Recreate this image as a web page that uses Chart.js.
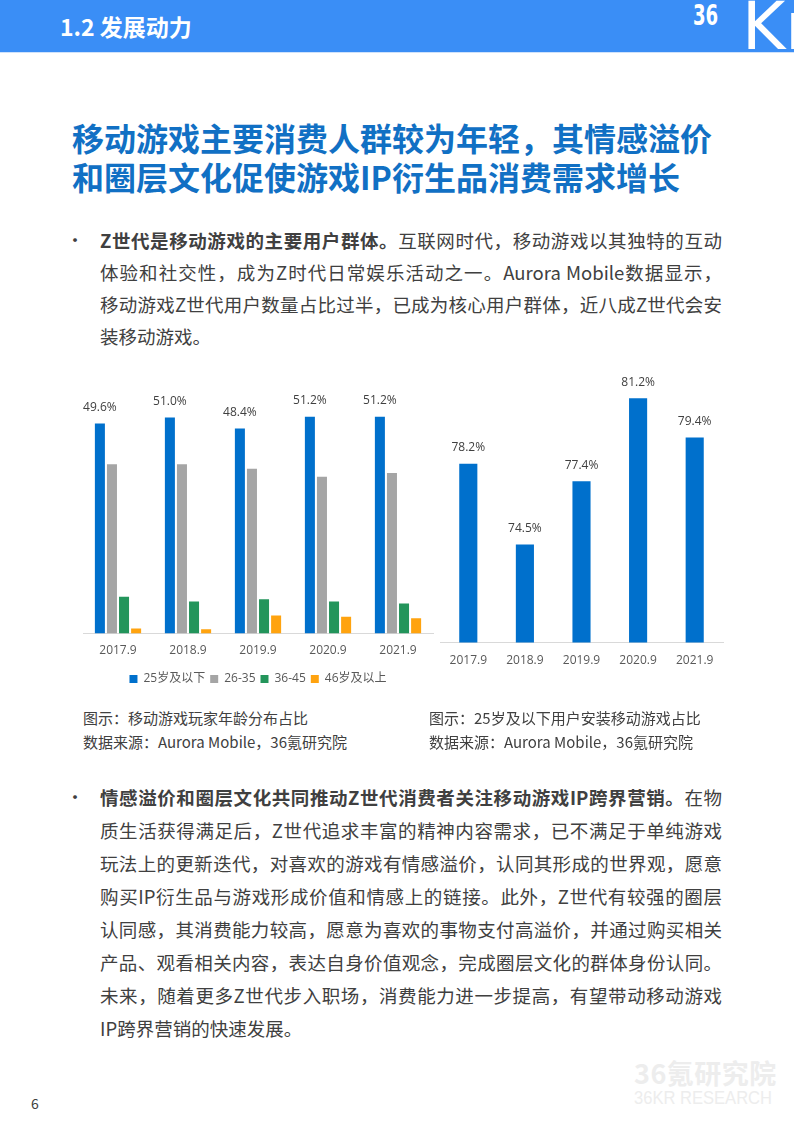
<!DOCTYPE html>
<html>
<head>
<meta charset="utf-8">
<script src="https://cdn.jsdelivr.net/npm/chart.js@4.4.0/dist/chart.umd.min.js"></script>
<style>
  body { margin: 0; background: #fff; }
  .page { position: relative; width: 794px; height: 1123px; overflow: hidden; font-family: "Noto Sans CJK SC", "Noto Sans", sans-serif; color: #404040; }
  .band { position: absolute; left: 0; top: 0; width: 794px; height: 52px; background: #3a8ef6; border-bottom: 1px solid #cfe2fb; overflow: hidden; }
  .band .sec { position: absolute; left: 60px; top: 10px; font-size: 23px; line-height: 32px; font-weight: 700; color: #fff; }
  .logo36 { position: absolute; left: 693px; top: 2px; font-family: "DejaVu Sans Condensed", "DejaVu Sans", sans-serif; font-size: 28px; line-height: 28px; font-weight: 700; color: #fff; transform: scaleX(0.72); transform-origin: left; }
  .logoK { position: absolute; left: 742px; top: -6px; font-family: "DejaVu Sans", sans-serif; font-size: 66px; line-height: 66px; font-weight: 400; color: #fff; }
  .title { position: absolute; left: 72px; font-size: 32px; line-height: 40px; font-weight: 700; color: #1170c4; white-space: nowrap; }
  .bullet { position: absolute; left: 66px; font-size: 18px; color: #404040; }
  .line { position: absolute; left: 100px; width: 622px; font-size: 18.5px; line-height: 26px; white-space: nowrap; text-align: justify; text-align-last: justify; color: #404040; }
  .line.last { text-align-last: left; }
  .line b { font-weight: 700; }
  .cap { position: absolute; font-size: 15px; line-height: 22px; color: #404040; white-space: nowrap; }
  canvas { position: absolute; }
  .pnum { position: absolute; left: 31px; top: 1093px; font-size: 14px; color: #404040; }
  .wm1 { position: absolute; left: 634px; top: 1057px; font-size: 27px; line-height: 32px; font-weight: 700; color: #ededed; letter-spacing: 0.5px; }
  .wm2 { position: absolute; left: 634px; top: 1088px; font-family: "Liberation Sans", sans-serif; font-size: 18px; line-height: 20px; color: #ededed; transform: scaleX(0.92); transform-origin: left; }
</style>
</head>
<body>
<div class="page">
  <div class="band">
    <div class="sec">1.2 发展动力</div>
    <div class="logo36">36</div>
    <div class="logoK">Kr</div>
  </div>

  <div class="title" style="top:117px">移动游戏主要消费人群较为年轻，其情感溢价</div>
  <div class="title" style="top:156px">和圈层文化促使游戏IP衍生品消费需求增长</div>

  <div class="bullet" style="top:226px">•</div>
  <div class="line" style="top:227px"><b>Z世代是移动游戏的主要用户群体。</b>互联网时代，移动游戏以其独特的互动</div>
  <div class="line" style="top:259px">体验和社交性，成为Z时代日常娱乐活动之一。Aurora Mobile数据显示，</div>
  <div class="line" style="top:291px">移动游戏Z世代用户数量占比过半，已成为核心用户群体，近八成Z世代会安</div>
  <div class="line last" style="top:323px">装移动游戏。</div>

  <canvas id="ageChart" style="left:70px; top:370px; width:376px; height:330px;" width="376" height="330"></canvas>
  <canvas id="installChart" style="left:430px; top:374px; width:305px; height:310px;" width="305" height="310"></canvas>

  <div class="cap" style="left:83px; top:707px">图示：移动游戏玩家年龄分布占比</div>
  <div class="cap" style="left:83px; top:731px">数据来源：Aurora Mobile，36氪研究院</div>
  <div class="cap" style="left:429px; top:707px">图示：25岁及以下用户安装移动游戏占比</div>
  <div class="cap" style="left:429px; top:731px">数据来源：Aurora Mobile，36氪研究院</div>

  <div class="bullet" style="top:783px">•</div>
  <div class="line" style="top:784px"><b>情感溢价和圈层文化共同推动Z世代消费者关注移动游戏IP跨界营销。</b>在物</div>
  <div class="line" style="top:817px">质生活获得满足后，Z世代追求丰富的精神内容需求，已不满足于单纯游戏</div>
  <div class="line" style="top:850px">玩法上的更新迭代，对喜欢的游戏有情感溢价，认同其形成的世界观，愿意</div>
  <div class="line" style="top:883px">购买IP衍生品与游戏形成价值和情感上的链接。此外，Z世代有较强的圈层</div>
  <div class="line" style="top:916px">认同感，其消费能力较高，愿意为喜欢的事物支付高溢价，并通过购买相关</div>
  <div class="line" style="top:949px">产品、观看相关内容，表达自身价值观念，完成圈层文化的群体身份认同。</div>
  <div class="line" style="top:982px">未来，随着更多Z世代步入职场，消费能力进一步提高，有望带动移动游戏</div>
  <div class="line last" style="top:1015px">IP跨界营销的快速发展。</div>

  <div class="wm1">36氪研究院</div>
  <div class="wm2">36KR RESEARCH</div>
  <div class="pnum">6</div>
</div>

<script>
// chart data
const periods = ['2017.9', '2018.9', '2019.9', '2020.9', '2021.9'];
const ageGroups = ['25岁及以下', '26-35', '36-45', '46岁及以上'];
const under25 = [49.6, 51.0, 48.4, 51.2, 51.2];
const age26to35 = [40.0, 40.0, 38.9, 37.0, 37.9];
const age36to45 = [8.7, 7.6, 8.1, 7.6, 7.1];
const age46plus = [1.2, 1.0, 4.3, 4.0, 3.6];
const installShare = [78.2, 74.5, 77.4, 81.2, 79.4];

const FONT = '"Open Sans", "Noto Sans CJK SC", sans-serif';
const TEXT = '#595959';

// draws "xx.x%" above the bars of one dataset
const valueLabels = {
  id: 'valueLabels',
  afterDatasetsDraw(chart, args, opts) {
    const ctx = chart.ctx;
    const idx = opts.datasetIndex || 0;
    const meta = chart.getDatasetMeta(idx);
    const values = chart.data.datasets[idx].data;
    ctx.save();
    ctx.font = '12px ' + FONT;
    ctx.fillStyle = '#404040';
    ctx.textAlign = 'center';
    ctx.textBaseline = 'middle';
    meta.data.forEach((bar, i) => {
      ctx.fillText(values[i].toFixed(1) + '%', bar.x, bar.y - opts.offset);
    });
    ctx.restore();
  }
};

const xAxis = (pad) => ({
  grid: { display: false, drawTicks: false },
  border: { color: '#d9d9d9', width: 1 },
  ticks: { color: TEXT, font: { size: 12, family: FONT }, padding: pad }
});

const ageColors = ['#0070cc', '#a5a5a5', '#23955b', '#ffa30f'];
const ageData = [under25, age26to35, age36to45, age46plus];

new Chart(document.getElementById('ageChart'), {
  type: 'bar',
  data: {
    labels: periods,
    datasets: ageGroups.map((g, i) => ({
      label: g,
      data: ageData[i],
      backgroundColor: ageColors[i],
      categoryPercentage: 0.69,
      barPercentage: 0.83
    }))
  },
  options: {
    responsive: false,
    animation: false,
    layout: { padding: { left: 13, right: 13, top: 20, bottom: 5 } },
    scales: {
      x: xAxis(10),
      y: { display: false, min: 0, max: 57.5 }
    },
    plugins: {
      legend: {
        position: 'bottom',
        labels: { boxWidth: 8, boxHeight: 8, padding: 5, color: TEXT, font: { size: 12, family: FONT } }
      },
      tooltip: { enabled: false },
      valueLabels: { datasetIndex: 0, offset: 16 }
    }
  },
  plugins: [valueLabels]
});

new Chart(document.getElementById('installChart'), {
  type: 'bar',
  data: {
    labels: periods,
    datasets: [{
      label: '25岁及以下用户安装移动游戏占比',
      data: installShare,
      backgroundColor: '#0070cc',
      categoryPercentage: 1,
      barPercentage: 0.32
    }]
  },
  options: {
    responsive: false,
    animation: false,
    layout: { padding: { left: 10, right: 12, top: 20, bottom: 5 } },
    scales: {
      x: xAxis(11),
      y: { display: false, min: 70, max: 81.4 }
    },
    plugins: {
      legend: { display: false },
      tooltip: { enabled: false },
      valueLabels: { datasetIndex: 0, offset: 16 }
    }
  },
  plugins: [valueLabels]
});
</script>
</body>
</html>
